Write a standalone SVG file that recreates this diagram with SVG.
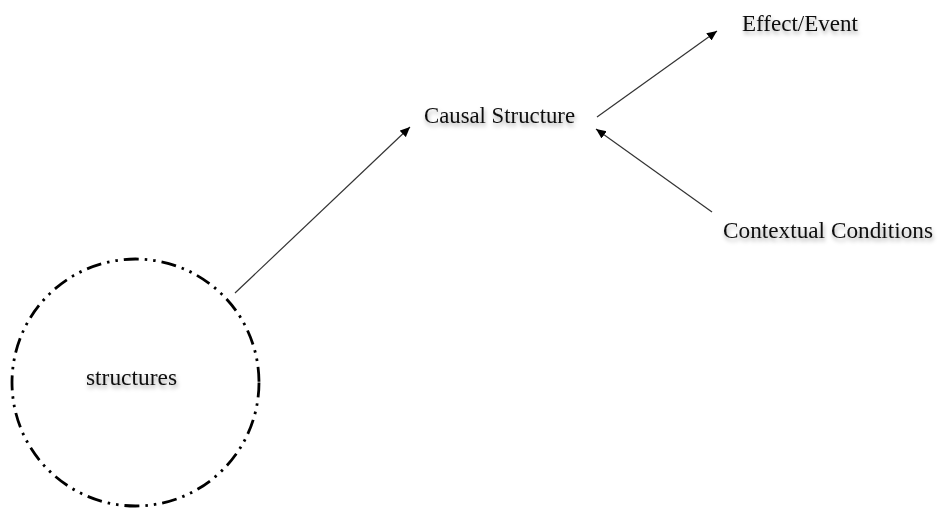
<svg xmlns="http://www.w3.org/2000/svg" width="939" height="510" viewBox="0 0 939 510">
<style>
.lbl{font-family:"Liberation Serif","Times New Roman",serif;font-size:24px;fill:#111;filter:url(#sh)}
.edge{stroke:#333;stroke-width:1.2;fill:none;marker-end:url(#ah)}
</style>
<defs>
<filter id="sh" x="-10%" y="-30%" width="120%" height="180%">
<feDropShadow dx="1" dy="3" stdDeviation="2" flood-color="#000" flood-opacity="0.35"/>
</filter>
<marker id="ah" viewBox="0 0 10 10" refX="10" refY="5" markerWidth="10" markerHeight="10" markerUnits="userSpaceOnUse" orient="auto">
<path d="M0,0.5 L10,5 L0,9.5 z" fill="#000"/>
</marker>
</defs>
<rect width="939" height="510" fill="#fff"/>
<g id="connectors">
<line class="edge" x1="235" y1="293" x2="410" y2="127"/>
<line class="edge" x1="597" y1="117" x2="717" y2="31"/>
<line class="edge" x1="712" y1="212" x2="596" y2="129"/>
</g>
<g id="structures">
<circle cx="135.5" cy="382.5" r="123.5" fill="none" stroke="#000" stroke-width="2.8" stroke-dasharray="15 6 2.5 6 2.5 6"/>
<text class="lbl" x="86" y="385" textLength="91" lengthAdjust="spacingAndGlyphs">structures</text>
</g>
<g id="causal">
<text class="lbl" x="424" y="123" textLength="151" lengthAdjust="spacingAndGlyphs">Causal Structure</text>
</g>
<g id="effect">
<text class="lbl" x="742" y="31" textLength="116" lengthAdjust="spacingAndGlyphs">Effect/Event</text>
</g>
<g id="context">
<text class="lbl" x="723" y="238" textLength="210" lengthAdjust="spacingAndGlyphs">Contextual Conditions</text>
</g>
</svg>
